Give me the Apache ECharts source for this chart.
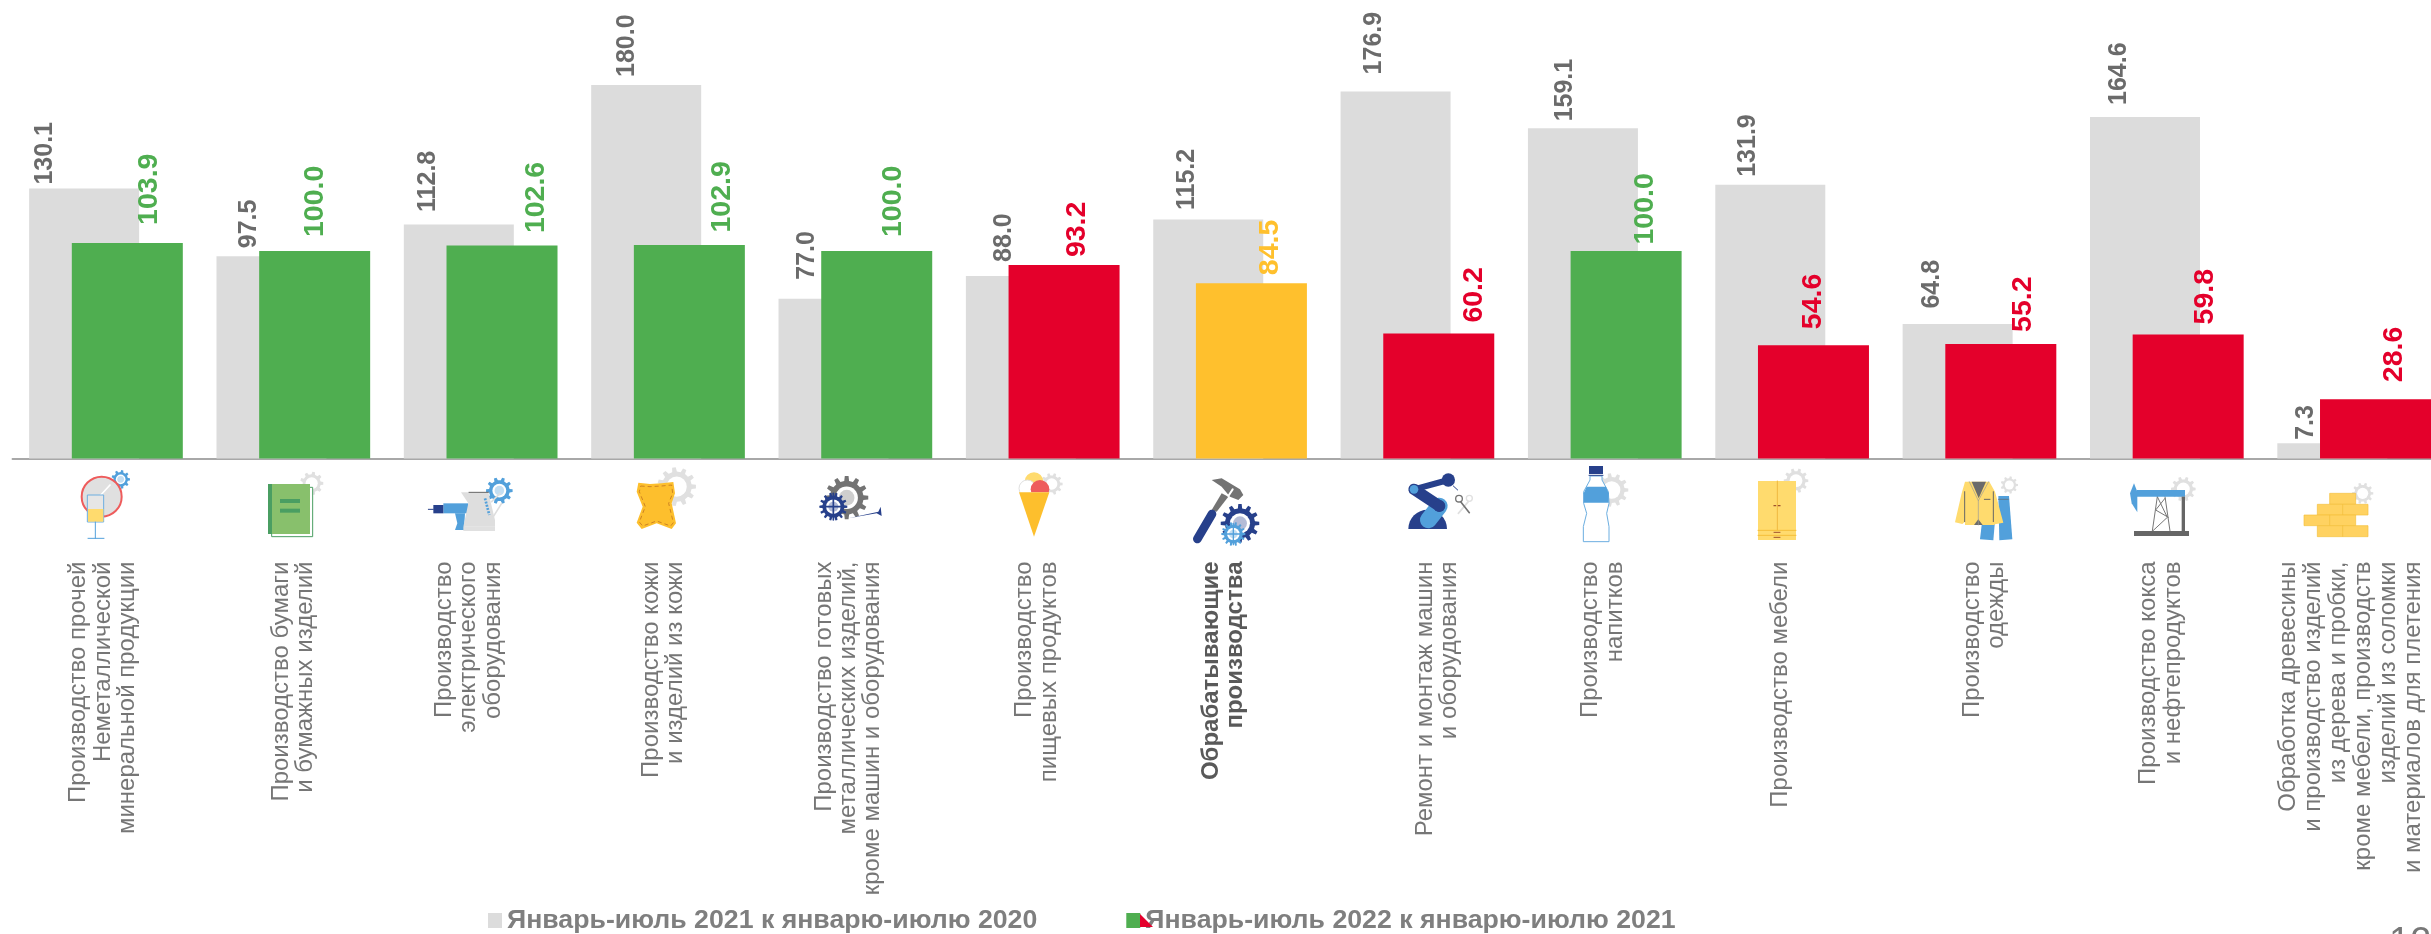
<!DOCTYPE html>
<html><head><meta charset="utf-8">
<style>html,body{margin:0;padding:0;background:#fff;overflow:hidden}#c{width:2431px;height:934px}</style>
<script src="https://cdn.jsdelivr.net/npm/echarts@6/dist/echarts.min.js"></script>
</head><body><div id="c"></div>
<script>
const categories = [
 'Производство прочей\nНеметаллической\nминеральной продукции',
 'Производство бумаги\nи бумажных изделий',
 'Производство\nэлектрического\nоборудования',
 'Производство кожи\nи изделий из кожи',
 'Производство готовых\nметаллических изделий,\nкроме машин и оборудования',
 'Производство\nпищевых продуктов',
 'Обрабатывающие\nпроизводства',
 'Ремонт и монтаж машин\nи оборудования',
 'Производство\nнапитков',
 'Производство мебели',
 'Производство\nодежды',
 'Производство кокса\nи нефтепродуктов',
 'Обработка древесины\nи производство изделий\nиз дерева и пробки,\nкроме мебели, производств\nизделий из соломки\nи материалов для плетения'
];
const series2021 = [130.1,97.5,112.8,180.0,77.0,88.0,115.2,176.9,159.1,131.9,64.8,164.6,7.3];
const series2022 = [103.9,100.0,102.6,102.9,100.0,93.2,84.5,60.2,100.0,54.6,55.2,59.8,28.6];
const G='#4FAE50', R='#E4002B', Y='#FFC02D';
const colors2022 = [G,G,G,G,G,R,Y,R,G,R,R,R,R];
const name2021='Январь-июль 2021 к январю-июлю 2020';
const name2022='Январь-июль 2022 к январю-июлю 2021';
// label placement tweaks (not data): [dx, gap above bar]
const offs2021=[[-39,4],[-22,8],[-31,12.5],[-19,8],[-26,19],[-17,14],[-21,9.5],[-21,17],[-18,7],[-22,8],[-26,15.5],[-26,12],[-26,3.5]];
const offs2022=[[22,18],[0,14],[34,12.5],[33,12.5],[16,14],[13,8],[19,8],[35.5,11],[19.5,6.5],[0,16],[22.6,12],[17,10],[19,17]];
const catShift=[-3,0,-12,-5,-7,-6,-7,20,-2,-12,5,-6,-3];

const LB='#52A0DB',DB='#27408B',LG='#E0E0E0',MG='#737373',YL='#FFDB6E',OR='#FDBF2D',RS='#EE5C5C';
function gear(x,y,r,c,n){n=n||10;const p=[];for(let i=0;i<n;i++){const a=i/n*2*Math.PI,w=Math.PI/n*.55;
 [[a-w,.78],[a-w*.6,1],[a+w*.6,1],[a+w,.78]].forEach(q=>p.push([x+r*q[1]*Math.cos(q[0]),y+r*q[1]*Math.sin(q[0])]));}
 return [{type:'polygon',shape:{points:p},style:{fill:c}},
  {type:'circle',shape:{cx:x,cy:y,r:r*.52},style:{fill:'#fff'}},
  {type:'circle',shape:{cx:x,cy:y,r:r*.36},style:{fill:c==LG?'#fff':c,opacity:c==LG?1:.35}}];}
const rect=(x1,y1,x2,y2,c,s)=>({type:'rect',shape:{x:x1,y:y1,width:x2-x1,height:y2-y1},style:Object.assign({fill:c},s||{})});
const poly=(p,c,s)=>({type:'polygon',shape:{points:p},style:Object.assign({fill:c},s||{})});
const line=(p,c,w,s)=>({type:'polyline',shape:{points:p},style:Object.assign({fill:'none',stroke:c,lineWidth:w,lineCap:'round'},s||{})});
const circ=(x,y,r,c,s)=>({type:'circle',shape:{cx:x,cy:y,r:r},style:Object.assign({fill:c},s||{})});
const icon=(x,y,kids)=>({type:'group',x:x,y:y,scaleX:1/3,scaleY:1/3,silent:true,children:kids});
const icons=[
 icon(0,440,[...gear(362,118,28,LB,9),
  circ(305,170,60,LG,{stroke:RS,lineWidth:6}),line([[275,195],[330,135]],'#fff',5),
  rect(262,165,311,246,'#E6E6E6',{stroke:'#6CAEE0',lineWidth:3}),rect(264,207,310,245,YL),
  line([[286,246],[286,295]],LB,3),line([[264,295],[312,295]],LB,3),
  ...gear(935,130,35,LG,9),
  rect(815,142,938,290,'#fff',{stroke:'#4A9E62',lineWidth:3}),rect(804,132,930,282,'#88C06C'),rect(804,132,816,282,'#4A9E62'),
  rect(840,177,900,189,'#4A9E62'),rect(840,206,900,218,'#4A9E62')]),
 icon(400,460,[...gear(298,92,40,LB,10),
  rect(130,130,205,160,LB),poly([[165,160],[195,160],[192,210],[165,210],[172,190]],LB),
  rect(100,135,130,160,DB),line([[85,148],[100,148]],DB,3),
  poly([[183,97],[265,97],[285,180],[285,200],[190,200],[205,130]],'#DEDEDE'),
  rect(190,200,285,213,LG),line([[207,97],[265,97]],'#666',3),
  line([[255,115],[268,165]],LB,8,{lineDash:[6,4],lineCap:'butt'}),
  line([[275,125],[300,100]],'#DEDEDE',5),line([[280,170],[305,130]],'#DEDEDE',5),
  ...gear(830,80,58,LG,11),
  poly([[715,68],[750,72],[785,70],[820,66],[825,100],[815,130],[828,190],[815,207],[770,190],[725,207],[710,188],[728,140],[710,95]],OR),
  poly([[722,78],[750,80],[785,78],[815,75],[818,100],[806,130],[820,188],[812,198],[770,183],[728,198],[718,186],[736,140],[718,95]],'none',{stroke:'#B5651D',lineWidth:2,lineDash:[12,9]}),
  ...gear(1340,113,65,MG,12),
  poly([[1345,175],[1435,155],[1442,140],[1445,168],[1430,160]],DB),
  ...gear(1300,140,42,DB,14),line([[1300,100],[1300,180]],DB,5),line([[1262,140],[1338,140]],DB,5)]),
 icon(950,460,[...gear(305,72,33,LG,10),
  circ(252,65,28,YL),circ(232,85,25,'#fff',{stroke:LG,lineWidth:3}),circ(270,88,28,RS),
  rect(200,97,305,120,'#fff'),poly([[207,97],[298,97],[252,230]],OR),
  poly([[785,60],[815,55],[870,88],[880,105],[865,120],[840,110],[815,80]],MG),
  poly([[815,100],[835,110],[800,155],[785,150]],MG),line([[848,88],[835,108]],'#fff',6),
  line([[786,162],[742,237]],DB,26),
  ...gear(870,190,58,DB,12),
  ...gear(850,222,36,LB,14),line([[850,190],[850,254]],LB,4),line([[820,222],[880,222]],LB,4)]),
 icon(1390,460,[
  {type:'sector',shape:{cx:113,cy:207,r:58,r0:0,startAngle:Math.PI,endAngle:2*Math.PI},style:{fill:DB}},
  line([[72,88],[175,60]],DB,18),
  line([[115,180],[148,138]],LB,50),line([[72,88],[148,138]],DB,34),circ(148,138,18,DB),circ(72,88,13,LB),
  circ(175,60,20,DB),line([[190,78],[203,90]],DB,3),
  line([[235,125],[205,160]],LG,5),circ(238,115,9,'none',{stroke:LG,lineWidth:4}),
  line([[212,125],[238,158]],MG,5),circ(207,116,10,'none',{stroke:MG,lineWidth:4}),
  ...gear(665,90,50,LG,11),
  poly([[600,48],[636,48],[636,60],[655,95],[657,130],[650,160],[657,200],[657,245],[580,245],[580,200],[590,160],[581,130],[581,95],[600,60]],'#fff',{stroke:'#6CAEE0',lineWidth:3}),
  rect(597,18,639,42,DB),line([[597,46],[639,46]],DB,3),
  poly([[590,80],[648,80],[656,100],[656,128],[581,128],[581,100]],LB),
  ...gear(1218,62,37,LG,10),
  rect(1104,63,1218,240,YL),line([[1162,63],[1162,210]],'#F0B840',3),
  line([[1104,211],[1218,211]],'#F5BF3A',3),line([[1104,226],[1218,226]],'#F5BF3A',3),
  line([[1152,137],[1157,137]],'#A0522D',4),line([[1165,137],[1170,137]],'#A0522D',4),
  line([[1152,217],[1170,217]],'#A0522D',3),line([[1152,232],[1170,232]],'#A0522D',3)]),
 icon(1930,460,[...gear(238,75,26,LG,9),
  poly([[150,238],[158,170],[196,170],[190,241]],LB),poly([[205,108],[237,108],[247,238],[208,241]],LB),
  line([[205,118],[235,118]],'#666',2),
  poly([[105,65],[178,65],[195,95],[220,188],[195,193],[192,195],[105,195],[105,185],[97,192],[75,187],[95,100]],YL),
  poly([[125,65],[168,65],[146,115]],'#6b6b6b'),poly([[132,195],[158,195],[145,178]],'#6b6b6b'),
  line([[118,65],[145,122],[145,195]],'#999',2),line([[176,65],[145,122]],'#999',2),
  line([[104,95],[104,185]],'#666',3),line([[190,95],[190,185]],'#666',3),line([[163,118],[180,118]],'#666',3),
  ...gear(760,87,37,LG,10),
  line([[682,110],[667,213]],'#777',3),line([[705,110],[720,213]],'#777',3),
  line([[682,110],[712,172],[668,213]],'#777',3),line([[705,115],[677,150],[715,172]],'#777',3),
  rect(620,90,765,110,LB),poly([[612,70],[600,100],[605,130],[622,157],[622,95]],LB),
  rect(755,110,765,215,'#666'),rect(612,213,777,228,'#666'),
  ...gear(1298,100,32,LG,10),
  ...[[1199,100,1277,133],[1162,133,1238,165],[1238,133,1314,165],[1122,165,1199,197],[1199,165,1277,197],[1162,197,1238,230],[1238,197,1314,230]]
    .map(b=>rect(b[0],b[1],b[2],b[3],'#FFD261',{stroke:'#F5BF3A',lineWidth:2}))]),
 {type:'polygon',silent:true,z:10,shape:{points:[[1140,914],[1153,927],[1140,927]]},style:{fill:R}},
 {type:'text',silent:true,x:2389,y:925,style:{text:'12',fill:'#777',font:'38px "Liberation Sans"',textVerticalAlign:'top',textBaseline:'top'}}
];

// rich styles for the rotated category labels: text lines plus a spacer line that nudges the block sideways
const rich={
 n:{fontSize:24,lineHeight:24.3,color:'#767676',fontFamily:'"Liberation Sans"'},
 w:{fontSize:24,lineHeight:25,color:'#767676',fontFamily:'"Liberation Sans"'},
 b:{fontSize:24,lineHeight:24.3,color:'#595959',fontWeight:'bold',fontFamily:'"Liberation Sans"'}
};
catShift.forEach((s,i)=>{rich['sp'+i]={fontSize:1,lineHeight:Math.max(1,Math.abs(s)*2)};});
function catLabel(v,i){
 const key=i==6?'b':(i==12?'w':'n');
 const lines=v.split('\n').map(l=>'{'+key+'|'+l+'}');
 const s=catShift[i];
 if(s>0) lines.unshift('{sp'+i+'| }');
 if(s<0) lines.push('{sp'+i+'| }');
 return lines.join('\n');
}

const chart=echarts.init(document.getElementById('c'),null,{renderer:'canvas'});
chart.setOption({
 animation:false,backgroundColor:'#fff',
 textStyle:{fontFamily:'"Liberation Sans",Arial,sans-serif'},
 legend:{left:488,top:907,padding:0,itemWidth:14,itemHeight:15,itemGap:89,icon:'rect',selectedMode:false,
  textStyle:{fontSize:26.7,fontWeight:'bold',color:'#7f7f7f',fontFamily:'"Liberation Sans"'},
  data:[name2021,name2022]},
 grid:{left:12.3,top:2,width:2435.55,height:456.5,containLabel:false,outerBoundsMode:'none'},
 xAxis:{type:'category',data:categories,
   axisTick:{show:false},axisLine:{lineStyle:{color:'#8c8c8c',width:1.5}},
   axisLabel:{interval:0,rotate:90,margin:103,fontSize:24,lineHeight:24.3,color:'#767676',fontFamily:'"Liberation Sans"',hideOverlap:false,formatter:catLabel,rich:rich}},
 yAxis:{type:'value',min:0,max:220,show:false,splitLine:{show:false}},
 series:[
  {name:name2021,type:'bar',barWidth:110,barGap:'-61.2%',z:2,itemStyle:{color:'#DCDCDC'},
   data:series2021.map((v,i)=>({value:v,label:{offset:[offs2021[i][1],offs2021[i][0]]}})),
   label:{show:true,position:'top',distance:0,rotate:90,align:'left',verticalAlign:'middle',formatter:p=>p.value.toFixed(1),
     fontSize:25,fontWeight:'bold',color:'#6b6b6b',fontFamily:'"Liberation Sans"'}},
  {name:name2022,type:'bar',barWidth:111,z:3,itemStyle:{color:G},
   data:series2022.map((v,i)=>({value:v,itemStyle:{color:colors2022[i]},
     label:{color:colors2022[i],offset:[offs2022[i][1],offs2022[i][0]]}})),
   label:{show:true,position:'top',distance:0,rotate:90,align:'left',verticalAlign:'middle',formatter:p=>p.value.toFixed(1),
     fontSize:28.5,fontWeight:'bold',fontFamily:'"Liberation Sans"'}}
 ],
 graphic:icons
});
</script></body></html>
